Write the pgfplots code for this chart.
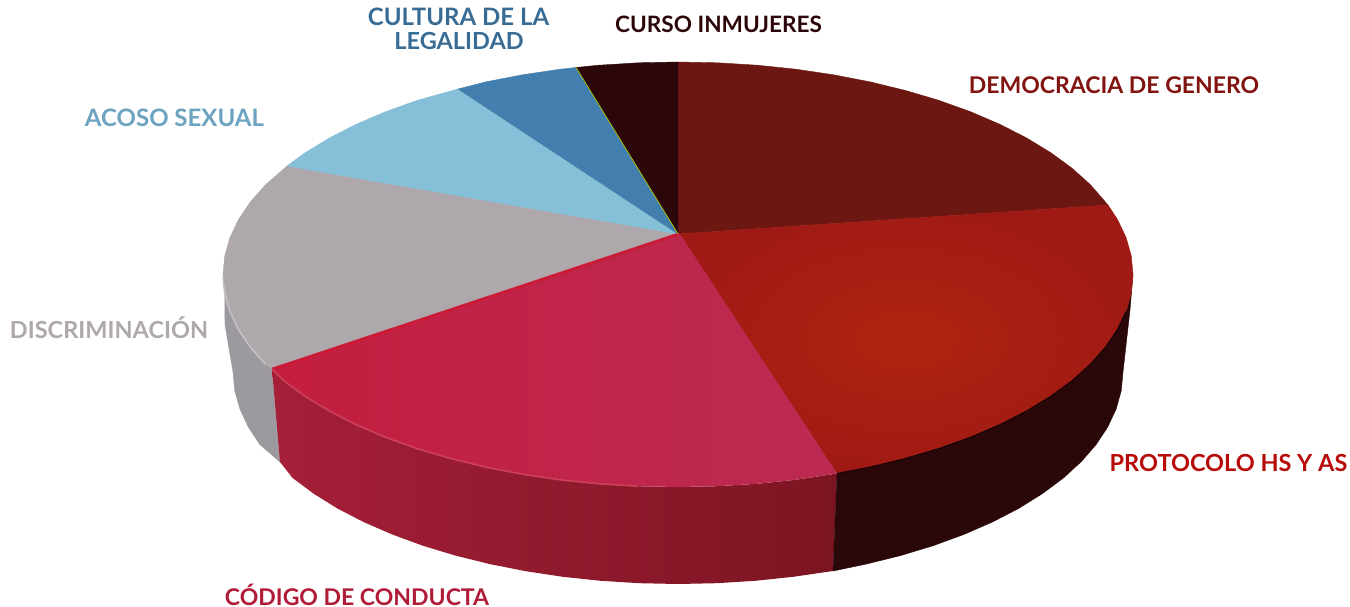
\documentclass[border=0pt]{standalone}
\usepackage{pgfplots}
\pgfplotsset{compat=1.18}
\usepackage{fontspec}
\setmainfont{Lato}
\definecolor{cDem}{HTML}{6C1711}
\definecolor{cProA}{HTML}{AE240F}
\definecolor{cProB}{HTML}{A01A15}
\definecolor{cCodA}{HTML}{C41E3E}
\definecolor{cCodB}{HTML}{BC2A52}
\definecolor{cGris}{HTML}{AEA7AB}
\definecolor{cCel}{HTML}{86BFD8}
\definecolor{cAzul}{HTML}{437FAE}
\definecolor{cNeg}{HTML}{2B0709}
\definecolor{cSideCodA}{HTML}{A51F38}
\definecolor{cSideCodB}{HTML}{7C1522}
\definecolor{cSidePro}{HTML}{2A0709}
\definecolor{cSideGris}{HTML}{9D9A9F}
\newcommand{\lab}[4]{\node[text=#1,font=\fontsize{#2}{#2}\selectfont\bfseries,anchor=center,inner sep=0pt] at (axis cs:#3) {#4};}
\begin{document}
\begin{tikzpicture}
\useasboundingbox (0,0) rectangle (1350pt,607pt);
\begin{axis}[
  at={(0,0)}, anchor=south west,
  scale only axis, width=1350pt, height=607pt,
  xmin=0, xmax=1350, ymin=0, ymax=607, y dir=reverse,
  hide axis, clip=false]
% ---- sides
\addplot[draw=cSideGris, line width=.4pt, fill=cSideGris] coordinates {
 (272,369)(265.6,364.3)(250.4,347.2)(238.5,329.5)(229.9,311.4)(224.7,293)(225,325)(233,372)(234.7,390.5)(239.8,408.8)(248.2,426.9)(259.8,444.5)(280,462)} -- cycle;
\addplot[draw=none, left color=cSideCodA, right color=cSideCodB] coordinates {
 (837,473.5)(795.8,479.8)(757,483.8)(717.7,486.2)(678,487)(638.3,486.2)(599,483.8)(560.2,479.8)(522.4,474.2)(485.7,467.1)(450.5,458.5)(417,448.6)(385.5,437.3)(356.3,424.8)(329.5,411.1)(305.3,396.4)(284,380.8)(272,369)
 (280,462)(292.6,478)(313.5,493.6)(337.1,508.3)(363.3,521.9)(392,534.4)(422.8,545.7)(455.5,555.6)(489.9,564.1)(525.8,571.2)(562.8,576.8)(600.7,580.8)(639.2,583.2)(678,584)(716.8,583.2)(755.3,580.8)(793.2,576.8)(833,571)} -- cycle;
\addplot[draw=cSidePro, line width=.4pt, fill=cSidePro] coordinates {
 (1133,274.5)(1131.3,293)(1126.1,311.4)(1117.5,329.5)(1105.6,347.2)(1090.4,364.3)(1072,380.8)(1050.7,396.4)(1026.5,411.1)(999.7,424.8)(970.5,437.3)(939,448.6)(905.5,458.5)(870.3,467.1)(837,473.5)
 (833,571)(866.1,564.1)(900.5,555.6)(933.2,545.7)(964,534.4)(992.7,521.9)(1018.9,508.3)(1042.5,493.6)(1063.4,478)(1081.3,461.6)(1096.2,444.5)(1107.8,426.9)(1116.2,408.8)(1121.3,390.5)(1123,372)(1130,310)} -- cycle;
% ---- top faces
\addplot[draw=cDem, line width=.4pt, fill=cDem] coordinates {
 (678,234)(678,62)(717.7,62.8)(757,65.2)(795.8,69.2)(833.6,74.8)(870.3,81.9)(905.5,90.5)(939,100.4)(970.5,111.7)(999.7,124.2)(1026.5,137.9)(1050.7,152.6)(1072,168.2)(1090.4,184.7)(1108,205)} -- cycle;
\addplot[draw=cProB, line width=.4pt, inner color=cProA, outer color=cProB] coordinates {
 (678,234)(1108,205)(1117.5,219.5)(1126.1,237.6)(1131.3,256)(1133,274.5)(1131.3,293)(1126.1,311.4)(1117.5,329.5)(1105.6,347.2)(1090.4,364.3)(1072,380.8)(1050.7,396.4)(1026.5,411.1)(999.7,424.8)(970.5,437.3)(939,448.6)(905.5,458.5)(870.3,467.1)(837,473.5)} -- cycle;
\addplot[draw=cGris, line width=.4pt, fill=cGris] coordinates {
 (678,234)(272,369)(265.6,364.3)(250.4,347.2)(238.5,329.5)(229.9,311.4)(224.7,293)(223,274.5)(224.7,256)(229.9,237.6)(238.5,219.5)(250.4,201.8)(265.6,184.7)(287,166)} -- cycle;
\addplot[draw=cCel, line width=.4pt, fill=cCel] coordinates {
 (678,234)(287,166)(305.3,152.6)(329.5,137.9)(356.3,124.2)(385.5,111.7)(417,100.4)(458,89)} -- cycle;
\addplot[draw=cAzul, line width=.4pt, fill=cAzul] coordinates {
 (678,234)(458,89)(485.7,81.9)(522.4,74.8)(560.2,69.2)(576,67.5)} -- cycle;
\addplot[draw=cNeg, line width=.4pt, fill=cNeg] coordinates {
 (678,234)(576,67.5)(599,65.2)(638.3,62.8)(678,62)} -- cycle;
\addplot[draw=none, left color=cCodA, right color=cCodB] coordinates {
 (680,234)(837,473.5)(795.8,479.8)(757,483.8)(717.7,486.2)(678,487)(638.3,486.2)(599,483.8)(560.2,479.8)(522.4,474.2)(485.7,467.1)(450.5,458.5)(417,448.6)(385.5,437.3)(356.3,424.8)(329.5,411.1)(305.3,396.4)(284,380.8)(272,369)} -- cycle;
% ---- rims and thin seams
\addplot[no marks, color=cCodA!85!red, line width=2.4pt] coordinates {
 (678,234)(272,369)};
\addplot[no marks, color=cCodA!85!white, line width=1.6pt] coordinates {
 (272,369)(284,380.8)(305.3,396.4)(329.5,411.1)(356.3,424.8)(385.5,437.3)(417,448.6)(450.5,458.5)(485.7,467.1)(522.4,474.2)(560.2,479.8)(599,483.8)(638.3,486.2)};
\addplot[no marks, color=white!30!cGris, line width=1.6pt] coordinates {
 (223,278)(224.7,293)(229.9,311.4)(238.5,329.5)(250.4,347.2)(265.6,364.3)};
\addplot[no marks, color=black!70!cSidePro, line width=1pt] coordinates {
 (1126.1,311.4)(1117.5,329.5)(1105.6,347.2)(1090.4,364.3)(1072,380.8)(1050.7,396.4)(1026.5,411.1)(999.7,424.8)(970.5,437.3)(939,448.6)(905.5,458.5)(870.3,467.1)(837,473.5)};
\addplot[no marks, color=yellow!70!green, line width=.7pt] coordinates {
 (678,234)(576,67.5)};
% ---- labels
\lab{cNeg}{22.6}{718.5,24}{CURSO INMUJERES}
\lab{cAzul!85!black}{24}{458.5,17}{CULTURA DE LA}
\lab{cAzul!85!black}{23.5}{459,41}{LEGALIDAD}
\lab{red!15!cDem}{23}{1114,85}{DEMOCRACIA DE GENERO}
\lab{cyan!35!cCel!85!black}{24}{174.5,118}{ACOSO SEXUAL}
\lab{cGris}{23.5}{109,328}{DISCRIMINACIÓN}
\lab{red!50!cDem}{23.5}{1228.5,463}{PROTOCOLO HS Y AS}
\lab{cCodA!90!black}{23}{357,594.5}{CÓDIGO DE CONDUCTA}
\end{axis}
\end{tikzpicture}
\end{document}
